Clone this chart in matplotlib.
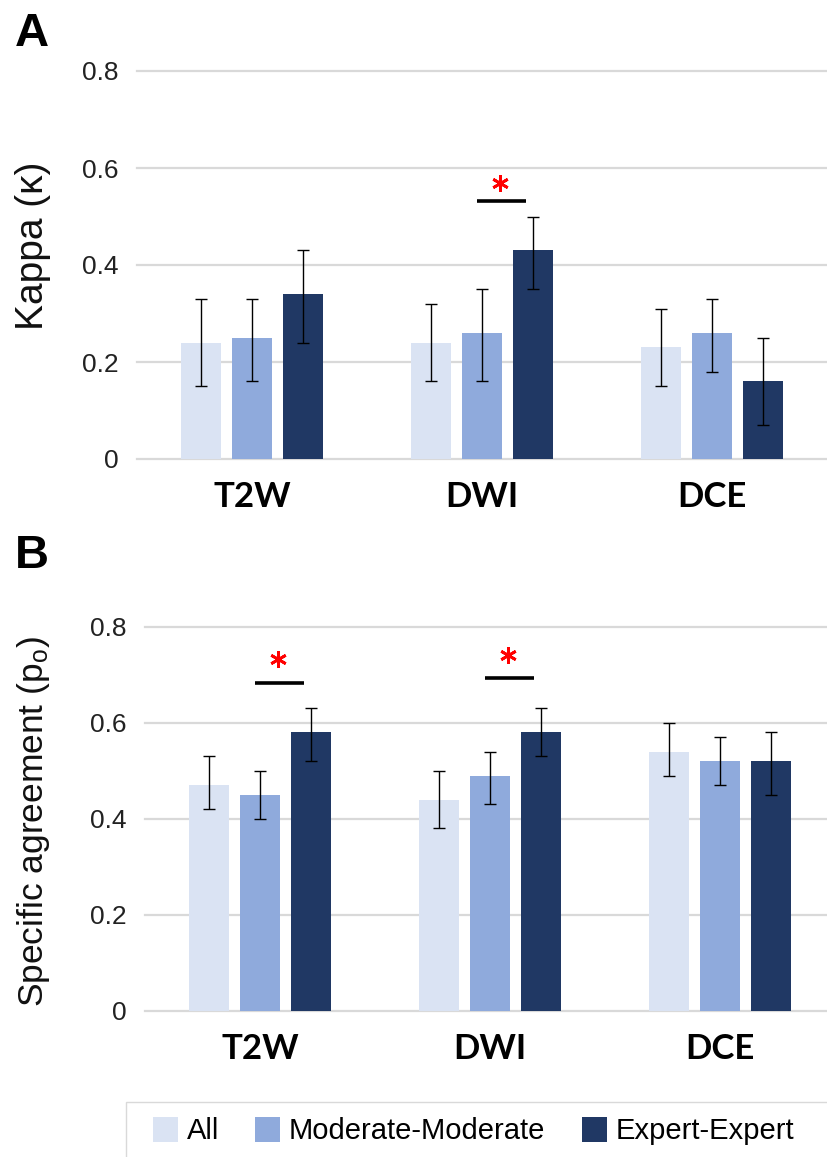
import numpy as np
import matplotlib
matplotlib.use("Agg")
import matplotlib.pyplot as plt
from matplotlib.patches import Patch, Rectangle

# data
categories = ["T2W", "DWI", "DCE"]
series = ["All", "Moderate-Moderate", "Expert-Expert"]
colors = ["#DAE3F3", "#8FAADC", "#203864"]

# panel A - kappa
kappa_all = [0.24, 0.24, 0.23]
kappa_mod = [0.25, 0.26, 0.26]
kappa_exp = [0.34, 0.43, 0.16]
kappa_all_ci = [(0.15, 0.33), (0.16, 0.32), (0.15, 0.31)]
kappa_mod_ci = [(0.16, 0.33), (0.16, 0.35), (0.18, 0.33)]
kappa_exp_ci = [(0.24, 0.43), (0.35, 0.50), (0.07, 0.25)]

# panel B - specific agreement
po_all = [0.47, 0.44, 0.54]
po_mod = [0.45, 0.49, 0.52]
po_exp = [0.58, 0.58, 0.52]
po_all_ci = [(0.42, 0.53), (0.38, 0.50), (0.49, 0.60)]
po_mod_ci = [(0.40, 0.50), (0.43, 0.54), (0.47, 0.57)]
po_exp_ci = [(0.52, 0.63), (0.53, 0.63), (0.45, 0.58)]

# significance marks: (category index, line y, star y)
sig_a = [(1, 0.531, 0.570)]
sig_b = [(0, 0.684, 0.734), (1, 0.693, 0.742)]

plt.rcParams["font.family"] = ["Liberation Sans", "DejaVu Sans"]
plt.rcParams["mathtext.default"] = "regular"

fig = plt.figure(figsize=(8.28, 11.57), dpi=100)
W, H = 828.0, 1157.0

ax_a = fig.add_axes([137 / W, 1 - 459 / H, 690 / W, 388 / H])
ax_b = fig.add_axes([145 / W, 1 - 1010.5 / H, 682 / W, 383.5 / H])

pitch = 0.222
bw = 0.174


def draw_panel(ax, vals, cis, sigs, xmax):
    x = np.arange(len(categories))
    for i, (v, ci) in enumerate(zip(vals, cis)):
        xs = x + (i - 1) * pitch
        lo = [v[k] - ci[k][0] for k in range(len(v))]
        hi = [ci[k][1] - v[k] for k in range(len(v))]
        ax.bar(xs, v, width=bw, color=colors[i], zorder=3)
        ax.errorbar(xs, v, yerr=[lo, hi], fmt="none", ecolor="black",
                    elinewidth=1.0, capsize=4.3, capthick=1.0, zorder=4)
    for idx, ly, sy in sigs:
        ax.plot([idx - 0.02, idx + 0.19], [ly, ly], color="black", lw=2.6,
                solid_capstyle="butt", zorder=5)
        ax.plot(idx + 0.08, sy, marker=(6, 2, 0), color="red", ms=12,
                mew=2.0, zorder=5)
    ax.set_xlim(-0.5, xmax)
    ax.set_ylim(0, 0.8)
    ax.set_yticks([0, 0.2, 0.4, 0.6, 0.8])
    ax.set_yticklabels(["0", "0.2", "0.4", "0.6", "0.8"])
    ax.set_xticks(x)
    ax.set_xticklabels(categories, fontfamily="Lato", fontweight="bold",
                       fontsize=25)
    ax.yaxis.grid(True, color="#D9D9D9", lw=1.6, zorder=0)
    ax.set_axisbelow(True)
    for s in ax.spines.values():
        s.set_visible(False)
    ax.tick_params(axis="y", length=0, labelsize=19, pad=13, labelcolor="#222222")
    ax.tick_params(axis="x", length=0, pad=16)
    for gl in ax.get_ygridlines():
        gl.set_clip_on(False)


draw_panel(ax_a, [kappa_all, kappa_mod, kappa_exp],
           [kappa_all_ci, kappa_mod_ci, kappa_exp_ci], sig_a, 2.5)
draw_panel(ax_b, [po_all, po_mod, po_exp],
           [po_all_ci, po_mod_ci, po_exp_ci], sig_b, 2.465)

# y labels
fig.text(33 / W, 1 - 246 / H, "Kappa (\u03ba)", rotation=90, ha="center",
         va="center", fontsize=28, color="#111111")
fig.text(34 / W, 1 - 822 / H, "Specific agreement (p$_{o}$)", rotation=90,
         ha="center", va="center", fontsize=25.5, color="#111111")

# panel letters
fig.text(15 / W, 1 - 12 / H, "A", fontsize=34, fontweight="bold", va="top")
fig.text(15 / W, 1 - 534 / H, "B", fontsize=34, fontweight="bold", va="top")

# legend box + entries
fig.patches.append(Rectangle((126 / W, -0.02), 0.9, 0.02 + 1 - 1102 / H,
                             transform=fig.transFigure, facecolor="white",
                             edgecolor="#D9D9D9", lw=1.0))
handles = [Patch(facecolor=c, edgecolor="none") for c in colors]
fig.legend(handles, series, loc="center left",
           bbox_to_anchor=(153 / W, 1 - 1131 / H), ncol=3, frameon=False,
           fontsize=21, handlelength=0.85, handleheight=0.95,
           handletextpad=0.3, columnspacing=1.25, borderpad=0,
           borderaxespad=0)

fig.savefig("out.png", dpi=100)
